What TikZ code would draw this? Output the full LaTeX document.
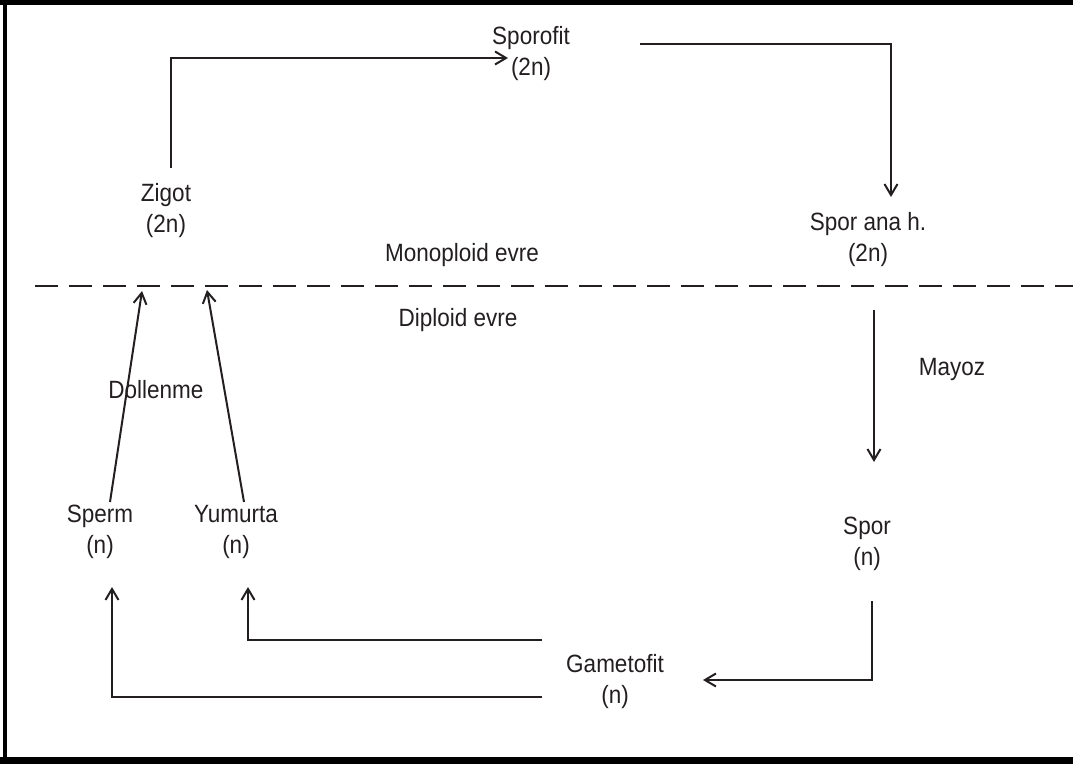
\documentclass[tikz,border=0pt]{standalone}
\usepackage{fontspec}
\setmainfont{Liberation Sans}[FakeStretch=0.9]
\usetikzlibrary{arrows.meta}
\definecolor{ink}{RGB}{35,31,32}
\begin{document}
\begin{tikzpicture}[x=1pt,y=1pt,
  lbl/.style={text=ink, inner sep=0pt, align=center, font=\fontsize{25}{31}\selectfont},
  link/.style={draw=ink, line width=2pt, -{Straight Barb[length=11pt,width=13pt,line width=2pt]}},
  dashline/.style={draw=ink, line width=2.2pt, dash pattern=on 23pt off 11pt}
]
\useasboundingbox (0,0) rectangle (1073,764);

% frame
\fill[black] (2.7,0) rectangle (7.3,764);
\fill[black] (0,759.3) rectangle (1073,764);
\fill[black] (0,0) rectangle (1073,7);

% stages of the life cycle
\node[lbl] (sporofit) at (531,710.5) {Sporofit\\(2n)};
\node[lbl] (zigot)    at (166,553)   {Zigot\\(2n)};
\node[lbl] (sporana)  at (868,524)   {Spor ana h.\\(2n)};
\node[lbl] (mono)     at (462,509)   {Monoploid evre};
\node[lbl] (diplo)    at (458,444)   {Diploid evre};
\node[lbl] (doll)     at (156,374)   {Dollenme};
\node[lbl] (mayoz)    at (952,395)   {Mayoz};
\node[lbl] (sperm)    at (100,232)   {Sperm\\(n)};
\node[lbl] (yumurta)  at (236,232)   {Yumurta\\(n)};
\node[lbl] (spor)     at (867,220)   {Spor\\(n)};
\node[lbl] (gameto)   at (615,82)    {Gametofit\\(n)};

% border between the two phases
\coordinate (dashL) at (35,478);
\coordinate (dashR) at (1073,478);
\draw[dashline] (dashL) -- (dashR);
\coordinate (fs) at (142,473);
\coordinate (fy) at (207,474);

% cycle
\draw[link] ([shift={(5,43)}]zigot.center) |- ([shift={(-23,-4.5)}]sporofit.center);
\draw[link] ([shift={(109,9.5)}]sporofit.center) -| ([shift={(23,43)}]sporana.center);
\draw[link] ([shift={(6,-70)}]sporana.center) -- ([shift={(7,82)}]spor.center);
\draw[link] ([shift={(5,-57)}]spor.center) |- ([shift={(88,2)}]gameto.center);
\draw[link] ([shift={(-73,42)}]gameto.center) -| ([shift={(12,-55)}]yumurta.center);
\draw[link] ([shift={(-73,-15)}]gameto.center) -| ([shift={(12,-55)}]sperm.center);
\draw[link] ([shift={(10,30)}]sperm.center) -- (fs);
\draw[link] ([shift={(8,30)}]yumurta.center) -- (fy);
\end{tikzpicture}
\end{document}
